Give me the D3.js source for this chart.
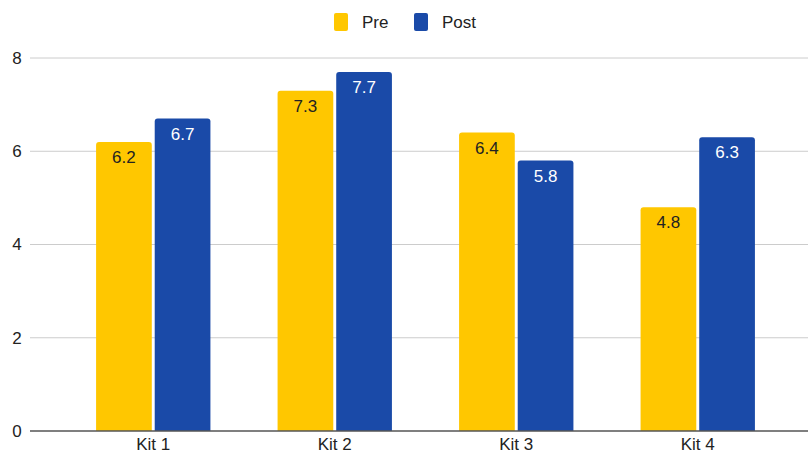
<!DOCTYPE html>
<html><head><meta charset="utf-8">
<script src="https://cdn.jsdelivr.net/npm/d3@7"></script>
<style>body{margin:0;background:#fff}svg{display:block;font-family:"Liberation Sans",Arial,sans-serif}</style>
</head><body><svg id="c" width="808" height="454"></svg>
<script>
const categories = ["Kit 1","Kit 2","Kit 3","Kit 4"];
const seriesNames = ["Pre","Post"];
const preValues = [6.2,7.3,6.4,4.8];
const postValues = [6.7,7.7,5.8,6.3];
const yTicks = [0,2,4,6,8];
const colors = ["#FFC700","#1A4AA8"];
const labelColors = ["#222","#fff"];

const svg = d3.select("#c");
const x = d3.scaleBand().domain(categories).range([62.5,788.5]).paddingInner(0.37).paddingOuter(0.185);
const x1 = d3.scaleBand().domain(seriesNames).range([0,x.bandwidth()]).paddingInner(0.05);
const y = d3.scaleLinear().domain([0,8]).range([431,58]);

// grid
svg.append("g").selectAll("line").data(yTicks.filter(d=>d>0)).join("line")
  .attr("x1",30).attr("x2",808).attr("y1",d=>y(d)).attr("y2",d=>y(d))
  .attr("stroke","#cccccc").attr("stroke-width",1);
svg.append("g").selectAll("text").data(yTicks).join("text")
  .attr("x",17).attr("y",d=>y(d)).attr("dy","0.35em").attr("text-anchor","middle")
  .attr("font-size",17).attr("fill","#222").text(d=>d);

const data = categories.map((c,i)=>({cat:c, vals:[preValues[i],postValues[i]]}));
function topRounded(x0,y0,w,h,r){
  return `M${x0},${y0+h}V${y0+r}Q${x0},${y0} ${x0+r},${y0}H${x0+w-r}Q${x0+w},${y0} ${x0+w},${y0+r}V${y0+h}Z`;
}
const g = svg.append("g").selectAll("g").data(data).join("g").attr("transform",d=>`translate(${x(d.cat)},0)`);
g.selectAll("path").data(d=>d.vals.map((v,j)=>({v,j}))).join("path")
  .attr("d",d=>topRounded(x1(seriesNames[d.j]),y(d.v),x1.bandwidth(),y(0)-y(d.v),3))
  .attr("fill",d=>colors[d.j]);
g.selectAll("text").data(d=>d.vals.map((v,j)=>({v,j}))).join("text")
  .attr("x",d=>x1(seriesNames[d.j])+x1.bandwidth()/2).attr("y",d=>y(d.v)+15)
  .attr("dy","0.35em").attr("text-anchor","middle").attr("font-size",17)
  .attr("fill",d=>labelColors[d.j]).text(d=>d.v.toFixed(1));

// baseline
svg.append("line").attr("x1",30).attr("x2",808).attr("y1",y(0)).attr("y2",y(0)).attr("stroke","#555").attr("stroke-width",1.5);
// x labels
svg.append("g").selectAll("text").data(categories).join("text")
  .attr("x",d=>x(d)+x.bandwidth()/2).attr("y",444).attr("dy","0.35em").attr("text-anchor","middle")
  .attr("font-size",17).attr("fill","#222").text(d=>d);

// legend
const legX = [334,414];
const lg = svg.append("g").selectAll("g").data(seriesNames).join("g").attr("transform",(d,i)=>`translate(${legX[i]},13)`);
lg.append("rect").attr("width",14).attr("height",18).attr("rx",2).attr("fill",(d,i)=>colors[i]);
lg.append("text").attr("x",28).attr("y",9).attr("dy","0.35em").attr("font-size",17).attr("fill","#222").text(d=>d);
</script></body></html>
